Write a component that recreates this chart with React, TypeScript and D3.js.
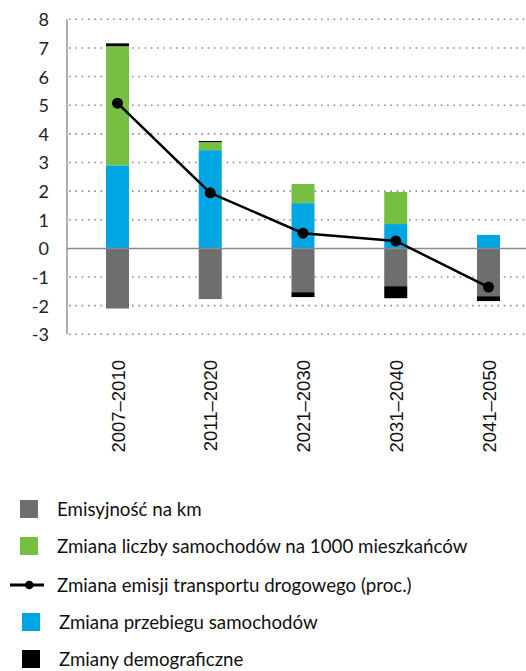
import React, { useEffect } from 'react';
import * as d3 from 'd3';

const categories = ['2007–2010', '2011–2020', '2021–2030', '2031–2040', '2041–2050'];
const emisyjnosc = [-2.1, -1.77, -1.53, -1.32, -1.67];
const przebieg = [2.9, 3.43, 1.58, 0.85, 0.47];
const liczba = [4.16, 0.28, 0.67, 1.12, 0];
const demografia = [0.1, 0.04, -0.17, -0.42, -0.17];
const emisjaTotal = [5.07, 1.94, 0.53, 0.26, -1.35];
const yTicks = [-3, -2, -1, 0, 1, 2, 3, 4, 5, 6, 7, 8];

const seriesKeys = ['emis', 'przebieg', 'liczba', 'demo'];
const seriesColors: Record<string, string> = {
  emis: '#6d6e70',
  przebieg: '#00a5e3',
  liczba: '#76bf43',
  demo: '#000000',
};

const legendItems = [
  { label: 'Emisyjność na km', type: 'rect', color: '#6d6e70' },
  { label: 'Zmiana liczby samochodów na 1000 mieszkańców', type: 'rect', color: '#76bf43' },
  { label: 'Zmiana emisji transportu drogowego (proc.)', type: 'line', color: '#000' },
  { label: 'Zmiana przebiegu samochodów', type: 'rect', color: '#00a5e3' },
  { label: 'Zmiany demograficzne', type: 'rect', color: '#000' },
];

export default function App() {
  useEffect(() => {
    document.body.style.margin = '0';
  }, []);

  const W = 526;
  const H = 671;
  const left = 67;
  const right = 526;
  const y = d3.scaleLinear().domain([-3, 8]).range([334.3, 19.3]);
  const x = d3.scalePoint<string>().domain(categories).range([117.5, 488.5]);
  const barW = 23;

  const rows = categories.map((c, i) => ({
    cat: c,
    emis: emisyjnosc[i],
    przebieg: przebieg[i],
    liczba: liczba[i],
    demo: demografia[i],
  }));
  const stacked = d3
    .stack<any>()
    .keys(seriesKeys)
    .offset(d3.stackOffsetDiverging)(rows);

  const line = d3
    .line<number>()
    .x((_, i) => x(categories[i]) as number)
    .y((d) => y(d));

  const legendY = [509, 546, 585, 622, 659];
  const legendX = [20, 20, 10, 22, 22];
  const textX = [57, 57, 57, 59, 59];

  return (
    <svg width={W} height={H} style={{ position: 'absolute', left: 0, top: 0 }}>
      {yTicks
        .filter((t) => t !== 0)
        .map((t) => (
          <line
            key={t}
            x1={left + 2}
            x2={right}
            y1={y(t)}
            y2={y(t)}
            stroke="#8c8c8c"
            strokeWidth={1.6}
            strokeDasharray="1.6 4.7"
          />
        ))}
      <line x1={left} x2={left} y1={y(8)} y2={y(-3)} stroke="#b0b0b0" strokeWidth={2} />
      {yTicks.map((t) => (
        <text
          key={t}
          x={49}
          y={y(t)}
          textAnchor="end"
          dominantBaseline="central"
          fontFamily="Lato, sans-serif"
          fontSize={18}
          fill="#222"
        >
          {t < 0 ? '-' + Math.abs(t) : String(t)}
        </text>
      ))}
      {stacked.map((s) =>
        s.map((d, i) => {
          const y0 = y(Math.max(d[0], d[1]));
          const y1 = y(Math.min(d[0], d[1]));
          if (y1 - y0 <= 0) return null;
          return (
            <rect
              key={s.key + i}
              x={(x(categories[i]) as number) - barW / 2}
              y={y0}
              width={barW}
              height={y1 - y0}
              fill={seriesColors[s.key]}
            />
          );
        })
      )}
      <line x1={left} x2={right} y1={y(0)} y2={y(0)} stroke="#8a8a8a" strokeWidth={1.5} />
      <path d={line(emisjaTotal) || ''} fill="none" stroke="#000" strokeWidth={2.5} />
      {emisjaTotal.map((v, i) => (
        <circle key={i} cx={x(categories[i]) as number} cy={y(v)} r={5.5} fill="#000" />
      ))}
      {categories.map((c) => (
        <text
          key={c}
          transform={`translate(${(x(c) as number) + 7},360) rotate(-90)`}
          textAnchor="end"
          fontFamily="'Liberation Sans', Arial, sans-serif"
          fontSize={18.5}
          fill="#111"
        >
          {c}
        </text>
      ))}
      {legendItems.map((it, i) => (
        <g key={it.label}>
          {it.type === 'rect' ? (
            <rect x={legendX[i]} y={legendY[i] - 9} width={18} height={18} fill={it.color} />
          ) : (
            <g>
              <line x1={10} x2={44} y1={legendY[i]} y2={legendY[i]} stroke="#000" strokeWidth={3} />
              <circle cx={29.3} cy={legendY[i]} r={4.3} fill="#000" />
            </g>
          )}
          <text
            x={textX[i]}
            y={legendY[i] + 6.5}
            fontFamily="Lato, sans-serif"
            fontSize={18.7}
            fill="#111"
          >
            {it.label}
          </text>
        </g>
      ))}
    </svg>
  );
}
